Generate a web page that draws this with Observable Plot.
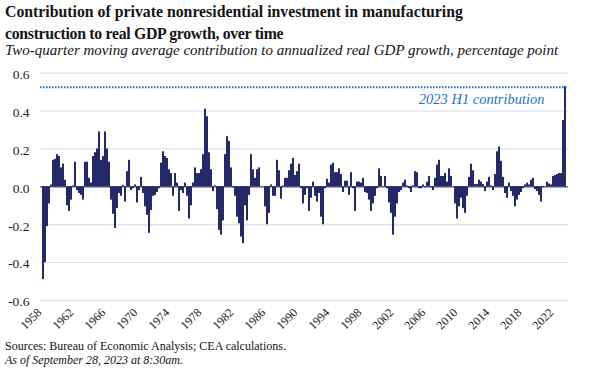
<!DOCTYPE html>
<html><head><meta charset="utf-8">
<script src="https://cdn.jsdelivr.net/npm/d3@7"></script>
<script src="https://cdn.jsdelivr.net/npm/@observablehq/plot@0.6"></script>
<style>
body{margin:0;background:#fff;}
#wrap{position:relative;width:601px;height:374px;overflow:hidden;font-family:"Liberation Serif",serif;color:#141414;}
#title{position:absolute;left:5px;top:1px;font-weight:bold;font-size:15.8px;line-height:22px;white-space:nowrap;}
#title .l2{letter-spacing:-0.3px;}
#subtitle{position:absolute;left:5px;top:42.4px;font-style:italic;font-size:15px;line-height:17px;white-space:nowrap;}
#chart{position:absolute;left:0;top:60px;}
#source{position:absolute;left:5px;top:339px;font-size:12px;line-height:14px;white-space:nowrap;}
#source .asof{font-style:italic;}
</style></head>
<body>
<div id="wrap">
  <div id="title">Contribution of private nonresidential investment in manufacturing<br><span class="l2">construction to real GDP growth, over time</span></div>
  <div id="subtitle">Two-quarter moving average contribution to annualized real GDP growth, percentage point</div>
  <div id="chart"></div>
  <div id="source">Sources: Bureau of Economic Analysis; CEA calculations.<br><span class="asof">As of September 28, 2023 at 8:30am.</span></div>
</div>
<script>
// Quarterly contribution (percentage points), one row per year, 1958 Q1 – 2023 Q2
const startYear = 1958;
const contribution = [
  -0.49,-0.40,-0.21,-0.09,   // 1958
  0.01,0.14,0.145,0.17,      // 1959
  0.16,0.10,0.12,0.035,      // 1960
  -0.10,-0.13,-0.07,0.005,   // 1961
  0.13,-0.02,-0.035,-0.045,  // 1962
  -0.07,0.13,0.13,0.045,     // 1963
  0.02,0.16,0.18,0.20,       // 1964
  0.29,0.14,0.16,0.29,       // 1965
  0.20,0.13,-0.07,-0.145,    // 1966
  -0.22,-0.115,-0.035,-0.05, // 1967
  0.007,-0.08,0.08,0.14,     // 1968
  -0.02,-0.01,0.01,-0.085,   // 1969
  -0.02,0.05,-0.035,-0.105,  // 1970
  -0.15,-0.245,-0.125,-0.05, // 1971
  -0.045,-0.03,-0.01,0.125,  // 1972
  0.185,0.16,0.15,0.09,      // 1973
  0.07,-0.05,0.07,0.02,      // 1974
  -0.13,-0.02,-0.035,0.02,   // 1975
  -0.05,-0.17,-0.10,0.02,    // 1976
  0.10,0.07,0.07,0.09,       // 1977
  0.17,0.41,0.37,0.18,       // 1978
  0.09,-0.025,0.005,-0.12,   // 1979
  -0.23,-0.255,-0.18,0.17,   // 1980
  0.265,0.24,0.10,-0.005,    // 1981
  -0.05,-0.16,-0.195,-0.265, // 1982
  -0.30,-0.10,-0.18,-0.045,  // 1983
  0.17,0.09,0.045,0.09,      // 1984
  0.10,0.0,0.0,-0.105,       // 1985
  -0.20,-0.14,0.01,-0.05,    // 1986
  -0.05,0.14,0.085,-0.065,   // 1987
  0.005,0.045,0.045,0.085,   // 1988
  0.12,0.15,0.06,0.08,       // 1989
  0.12,-0.01,-0.09,-0.045,   // 1990
  -0.01,-0.13,-0.06,0.025,   // 1991
  -0.05,-0.08,-0.035,-0.16,  // 1992
  -0.20,-0.01,0.04,0.02,     // 1993
  0.115,0.125,0.075,0.075,   // 1994
  0.095,0.065,-0.03,0.03,    // 1995
  0.03,-0.045,0.075,-0.01,   // 1996
  -0.13,0.025,0.025,0.02,    // 1997
  0.045,-0.03,-0.035,-0.07,  // 1998
  -0.13,-0.09,-0.05,-0.01,   // 1999
  0.095,0.055,0.0,0.055,     // 2000
  -0.01,-0.085,-0.14,-0.255, // 2001
  -0.16,-0.09,-0.03,-0.02,   // 2002
  0.02,0.035,0.005,-0.01,    // 2003
  -0.03,0.005,0.08,0.075,    // 2004
  -0.01,-0.01,0.01,-0.005,   // 2005
  0.025,0.055,-0.005,-0.02,  // 2006
  0.045,0.115,0.14,0.055,    // 2007
  0.055,0.07,0.025,0.095,    // 2008
  0.055,0.0,-0.09,-0.17,     // 2009
  -0.105,-0.06,-0.115,-0.14, // 2010
  -0.05,0.05,0.12,0.085,     // 2011
  0.012,0.012,0.035,0.025,   // 2012
  0.012,-0.025,0.025,0.05,   // 2013
  0.005,-0.02,0.065,0.185,   // 2014
  0.21,0.135,0.05,-0.035,    // 2015
  -0.06,0.02,-0.025,-0.05,   // 2016
  -0.105,-0.07,-0.045,-0.03, // 2017
  -0.01,0.01,0.02,0.01,      // 2018
  0.035,0.045,-0.015,-0.025, // 2019
  -0.045,-0.08,-0.005,0.0,   // 2020
  0.025,0.015,0.01,0.055,    // 2021
  0.06,0.065,0.07,0.07,      // 2022
  0.35,0.53                  // 2023
];
const quarters = contribution.map((_, i) => `${startYear + Math.floor(i / 4)} Q${(i % 4) + 1}`);
const tickYears = [1958,1962,1966,1970,1974,1978,1982,1986,1990,1994,1998,2002,2006,2010,2014,2018,2022];
const yTicks = [-0.6,-0.4,-0.2,0,0.2,0.4,0.6];
const h1Value = 0.526;
const h1Label = "2023 H1 contribution";

const data = contribution.map((v, i) => ({quarter: quarters[i], value: v}));

const chart = Plot.plot({
  width: 601,
  height: 280,
  marginTop: 12.7,
  marginBottom: 40,
  marginLeft: 40,
  marginRight: 33,
  style: {fontFamily: "'Liberation Serif', serif", fontSize: "13px", color: "#1a1a1a", background: "#fff"},
  x: {type: "band", domain: quarters, padding: 0.12, label: null},
  y: {domain: [-0.6, 0.6], label: null},
  marks: [
    Plot.gridY(yTicks, {stroke: "#e2e2ec", strokeOpacity: 1, strokeWidth: 1.3}),
    Plot.axisY(yTicks, {label: null, tickSize: 0, tickPadding: 11, dy: 1.5, tickFormat: d => d.toFixed(1), fontSize: 13.5, fill: "#1a1a1a"}),
    Plot.barY(data, {x: "quarter", y: "value", fill: "#242968"}),
    Plot.ruleY([0], {stroke: "#1f2360", strokeWidth: 1}),
    Plot.ruleY([h1Value], {stroke: "#1f73bf", strokeWidth: 2, strokeDasharray: "1.6,1.4"}),
    Plot.text([h1Label], {frameAnchor: "right", y: h1Value, dx: -24, dy: 12, textAnchor: "end", fontStyle: "italic", fontSize: 14.5, fill: "#1f73bf"}),
    Plot.axisX(tickYears.map(y => `${y} Q1`), {label: null, tickRotate: -45, tickSize: 0, tickPadding: 10, dx: -4, tickFormat: d => d.slice(0, 4), fontSize: 12, fill: "#1a1a1a"})
  ]
});
document.getElementById("chart").appendChild(chart);
</script>
</body></html>
